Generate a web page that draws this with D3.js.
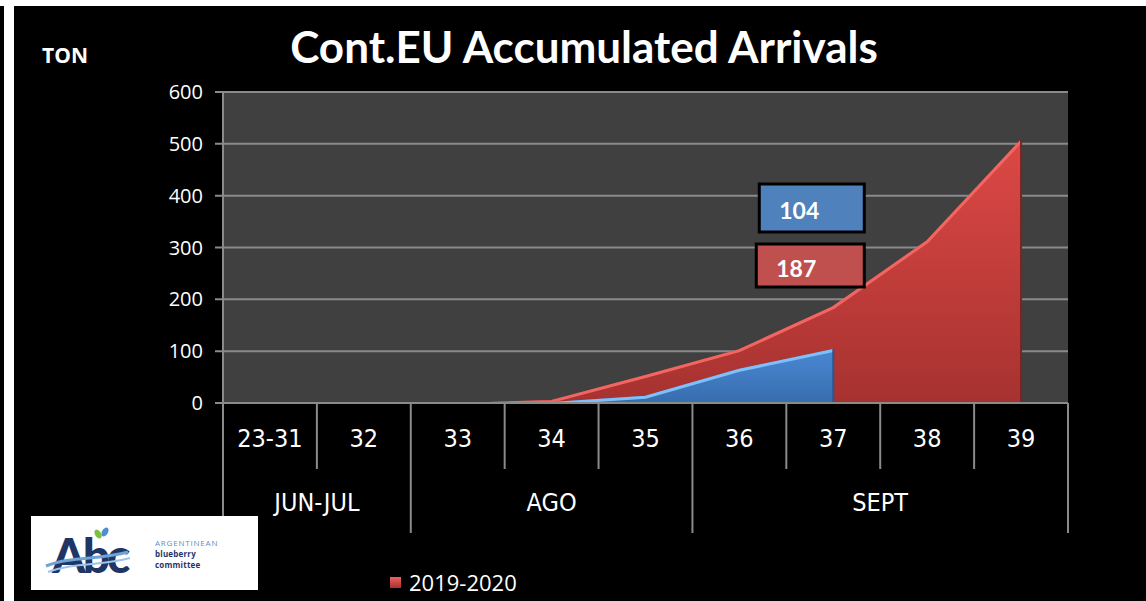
<!DOCTYPE html>
<html>
<head>
<meta charset="utf-8">
<script src="https://cdn.jsdelivr.net/npm/d3@7"></script>
<style>
  html, body { margin: 0; padding: 0; background: #fff; }
  svg { display: block; }
</style>
</head>
<body>
<svg id="chart" width="1146" height="601"></svg>
<script>
// ---------- data ----------
const categories = ["23-31", "32", "33", "34", "35", "36", "37", "38", "39"];
const groupNames = ["JUN-JUL", "AGO", "SEPT"];
const groupSpans = [2, 3, 4];
const season2019 = [0, 0, 0, 6, 54, 104, 187, 314, 508];      // red
const season2020 = [0, 0, 0, 2, 14, 66, 104, null, null];      // blue
const yTicks = [0, 100, 200, 300, 400, 500, 600];
const legendLabels = ["2019-2020"];
const titleText = "Cont.EU Accumulated Arrivals";
const unitText = "TON";

// ---------- layout ----------
const W = 1146, H = 601;
const plot = { left: 223, right: 1068, top: 92, bottom: 403 };
const svg = d3.select("#chart");

svg.append("rect").attr("x", 0).attr("y", 0).attr("width", W).attr("height", H).attr("fill", "#ffffff");
svg.append("rect").attr("x", 14).attr("y", 6).attr("width", W - 14).attr("height", H - 6).attr("fill", "#000000");
svg.append("rect").attr("x", 0).attr("y", 6).attr("width", 4).attr("height", H - 6).attr("fill", "#000000");

const x = d3.scaleBand().domain(categories).range([plot.left, plot.right]).paddingInner(0).paddingOuter(0);
const bw = x.bandwidth();
const cx = c => x(c) + bw / 2;
const y = d3.scaleLinear().domain([0, 600]).range([plot.bottom, plot.top]);

const defs = svg.append("defs");
defs.append("clipPath").attr("id", "plotClip").append("rect")
  .attr("x", plot.left).attr("y", plot.top).attr("width", plot.right - plot.left).attr("height", plot.bottom - plot.top - 1);
const redGrad = defs.append("linearGradient").attr("id", "redGrad")
  .attr("gradientUnits", "userSpaceOnUse").attr("x1", 0).attr("y1", y(520)).attr("x2", 0).attr("y2", y(0));
redGrad.append("stop").attr("offset", 0).attr("stop-color", "#de4946");
redGrad.append("stop").attr("offset", 1).attr("stop-color", "#a63230");
const blueGrad = defs.append("linearGradient").attr("id", "blueGrad")
  .attr("gradientUnits", "userSpaceOnUse").attr("x1", 0).attr("y1", y(110)).attr("x2", 0).attr("y2", y(0));
blueGrad.append("stop").attr("offset", 0).attr("stop-color", "#4b8ad6");
blueGrad.append("stop").attr("offset", 1).attr("stop-color", "#386dae");
const legGrad = defs.append("linearGradient").attr("id", "legGrad").attr("x1", 0).attr("y1", 0).attr("x2", 0).attr("y2", 1);
legGrad.append("stop").attr("offset", 0).attr("stop-color", "#f0605c");
legGrad.append("stop").attr("offset", 1).attr("stop-color", "#a83230");

// plot background
svg.append("rect").attr("x", plot.left).attr("y", plot.top)
  .attr("width", plot.right - plot.left).attr("height", plot.bottom - plot.top).attr("fill", "#404040");

// gridlines
svg.append("g").selectAll("line").data(yTicks).join("line")
  .attr("x1", plot.left - 8).attr("x2", plot.right)
  .attr("y1", d => y(d)).attr("y2", d => y(d))
  .attr("stroke", "#8a8a8a").attr("stroke-width", 2);

// y axis line
svg.append("line").attr("x1", plot.left).attr("x2", plot.left).attr("y1", plot.top).attr("y2", plot.bottom)
  .attr("stroke", "#8a8a8a").attr("stroke-width", 2);

// y tick labels
svg.append("g").selectAll("text").data(yTicks).join("text")
  .attr("x", 203).attr("y", d => y(d)).attr("dy", "0.35em")
  .attr("text-anchor", "end").attr("fill", "#ffffff")
  .attr("font-family", "'Open Sans', sans-serif").attr("font-size", 20)
  .text(d => d);

// ---------- areas ----------
const toPts = arr => categories.map((c, i) => ({ c, i, v: arr[i] }));
const redPts = toPts(season2019);
const bluePts = toPts(season2020);
const risingPart = pts => {
  const firstPos = pts.findIndex(d => d.v != null && d.v > 0);
  return pts.filter(d => d.v != null && d.i >= Math.max(0, firstPos - 1));
};

const area = d3.area().defined(d => d.v != null).x(d => cx(d.c)).y0(y(0)).y1(d => y(d.v)).curve(d3.curveLinear);
const topLine = d3.line().x(d => cx(d.c)).y(d => y(d.v)).curve(d3.curveLinear);

const ag = svg.append("g").attr("clip-path", "url(#plotClip)");
ag.append("path").datum(redPts).attr("d", area).attr("fill", "url(#redGrad)");
ag.append("path").datum(risingPart(redPts)).attr("d", topLine)
  .attr("fill", "none").attr("stroke", "#f26662").attr("stroke-width", 3).attr("transform", "translate(0,1.5)");
const lastRed = redPts[redPts.length - 1];
ag.append("line").attr("x1", cx(lastRed.c)).attr("x2", cx(lastRed.c)).attr("y1", y(lastRed.v)).attr("y2", y(0))
  .attr("stroke", "#7a2422").attr("stroke-width", 2);

ag.append("path").datum(bluePts).attr("d", area).attr("fill", "url(#blueGrad)");
ag.append("path").datum(risingPart(bluePts)).attr("d", topLine)
  .attr("fill", "none").attr("stroke", "#7fc0fa").attr("stroke-width", 3).attr("transform", "translate(0,1.5)");
const lastBlue = bluePts.filter(d => d.v != null).slice(-1)[0];
ag.append("line").attr("x1", cx(lastBlue.c)).attr("x2", cx(lastBlue.c)).attr("y1", y(lastBlue.v)).attr("y2", y(0))
  .attr("stroke", "#2b5691").attr("stroke-width", 2);

// ---------- x axis (two-level) ----------
const axisCol = "#8a8a8a";
svg.append("line").attr("x1", plot.left).attr("x2", plot.right).attr("y1", plot.bottom).attr("y2", plot.bottom)
  .attr("stroke", axisCol).attr("stroke-width", 2);
const row1Bottom = 469, row2Bottom = 533;
const boundaries = categories.map(c => x(c)).concat([plot.right]);
const groupEdgeIdx = [0];
groupSpans.reduce((acc, s) => { acc += s; groupEdgeIdx.push(acc); return acc; }, 0);
svg.append("g").selectAll("line").data(boundaries).join("line")
  .attr("x1", d => d).attr("x2", d => d)
  .attr("y1", plot.bottom)
  .attr("y2", (d, i) => groupEdgeIdx.includes(i) ? row2Bottom : row1Bottom)
  .attr("stroke", axisCol).attr("stroke-width", 2);

svg.append("g").selectAll("text").data(categories).join("text")
  .attr("x", d => cx(d)).attr("y", 438).attr("dy", "0.35em")
  .attr("text-anchor", "middle").attr("fill", "#ffffff")
  .attr("font-family", "'Liberation Sans Narrow', 'DejaVu Sans Condensed', sans-serif").attr("font-size", 25)
  .text(d => d);

const groupCenters = groupNames.map((g, i) => {
  const a = boundaries[groupEdgeIdx[i]], b = boundaries[groupEdgeIdx[i + 1]];
  return (a + b) / 2;
});
svg.append("g").selectAll("text").data(groupNames).join("text")
  .attr("x", (d, i) => groupCenters[i]).attr("y", 502).attr("dy", "0.35em")
  .attr("text-anchor", "middle").attr("fill", "#ffffff")
  .attr("font-family", "'Liberation Sans Narrow', 'DejaVu Sans Condensed', sans-serif").attr("font-size", 25)
  .text(d => d);

// ---------- value label boxes ----------
const lblBlue = lastBlue.v;
const lblRed = season2019[categories.indexOf(lastBlue.c)];
const bx = cx(lastBlue.c);
const boxes = [
  { v: lblBlue, x0: bx - 74, x1: bx + 31, y0: 184, y1: 232, fill: "#4f81bd" },
  { v: lblRed, x0: bx - 77, x1: bx + 31, y0: 244, y1: 287, fill: "#c0504d" }
];
const bg = svg.append("g").selectAll("g").data(boxes).join("g");
bg.append("rect").attr("x", d => d.x0).attr("y", d => d.y0)
  .attr("width", d => d.x1 - d.x0).attr("height", d => d.y1 - d.y0)
  .attr("fill", d => d.fill).attr("stroke", "#000").attr("stroke-width", 3);
bg.append("text").attr("x", d => d.x0 + 20).attr("y", d => (d.y0 + d.y1) / 2 + 3).attr("dy", "0.35em")
  .attr("fill", "#fff").attr("font-family", "Lato, 'Open Sans', sans-serif").attr("font-weight", "bold")
  .attr("font-size", 23).text(d => d.v);

// ---------- title & unit ----------
svg.append("text").attr("x", 584).attr("y", 63).attr("text-anchor", "middle")
  .attr("fill", "#fff").attr("font-family", "Lato, sans-serif").attr("font-weight", "bold")
  .attr("font-size", 44).text(titleText);
svg.append("text").attr("x", 42).attr("y", 63)
  .attr("fill", "#fff").attr("font-family", "'Open Sans', sans-serif").attr("font-weight", "bold")
  .attr("font-size", 21).text(unitText);

// ---------- legend ----------
const lg = svg.append("g").selectAll("g").data(legendLabels).join("g");
lg.append("rect").attr("x", 390).attr("y", 577).attr("width", 11).attr("height", 11)
  .attr("fill", "url(#legGrad)");
lg.append("text").attr("x", 409).attr("y", 583).attr("dy", "0.35em")
  .attr("fill", "#fff").attr("font-family", "'Open Sans', sans-serif").attr("font-size", 22)
  .text(d => d);

// ---------- logo ----------
const logo = svg.append("g");
logo.append("rect").attr("x", 31).attr("y", 516).attr("width", 227).attr("height", 74).attr("fill", "#fff");
logo.append("text").attr("x", 52).attr("y", 573).attr("fill", "#1f3566")
  .attr("font-family", "Lato, sans-serif").attr("font-weight", "900").attr("font-size", 48)
  .attr("letter-spacing", -3).text("Abc");
logo.append("path").attr("d", "M46,566 C70,556 100,560 128,552").attr("fill", "none").attr("stroke", "#6fa3d6").attr("stroke-width", 3);
logo.append("path").attr("d", "M48,572 C74,562 102,566 130,558").attr("fill", "none").attr("stroke", "#9cc4e8").attr("stroke-width", 2);
logo.append("ellipse").attr("cx", 98).attr("cy", 534).attr("rx", 3).attr("ry", 5).attr("fill", "#7fbf3f").attr("transform", "rotate(-30,98,534)");
logo.append("ellipse").attr("cx", 105).attr("cy", 532).attr("rx", 3).attr("ry", 5).attr("fill", "#4e8fd0").attr("transform", "rotate(30,105,532)");
const logoLines = [
  { t: "ARGENTINEAN", c: "#5b8fc8", w: "normal", y: 546 },
  { t: "blueberry", c: "#1f3566", w: "bold", y: 557 },
  { t: "committee", c: "#1f3566", w: "bold", y: 568 }
];
logo.append("g").selectAll("text").data(logoLines).join("text")
  .attr("x", 155).attr("y", d => d.y).attr("fill", d => d.c)
  .attr("font-family", "'Open Sans', sans-serif").attr("font-weight", d => d.w)
  .attr("font-size", 8).attr("letter-spacing", (d, i) => i === 0 ? 0.8 : 0.2).text(d => d.t);
</script>
</body>
</html>
